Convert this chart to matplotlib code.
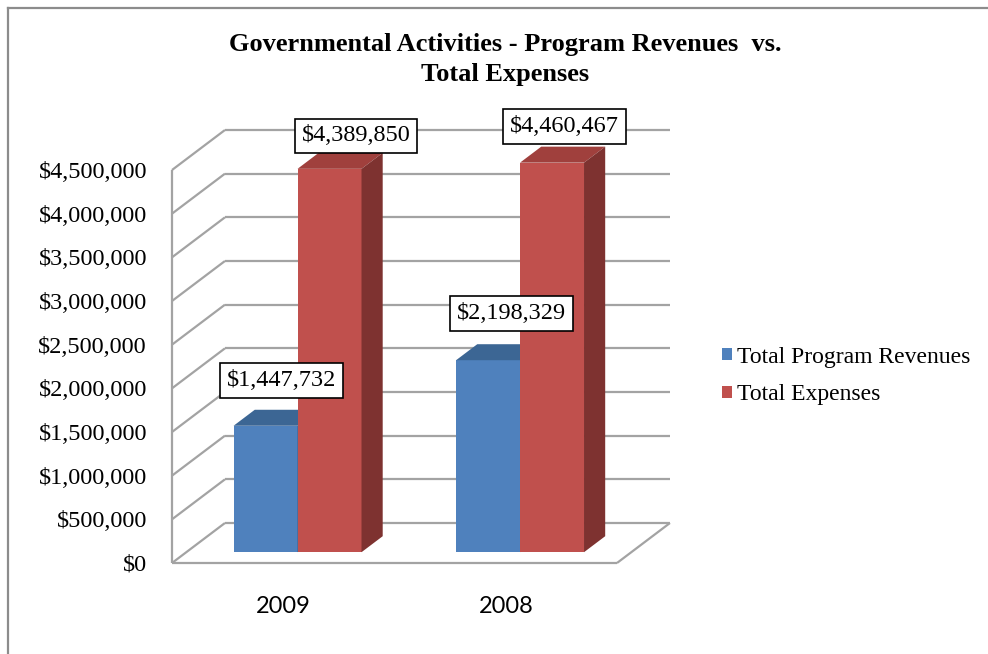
import matplotlib
matplotlib.use("Agg")
import matplotlib.pyplot as plt
from matplotlib.patches import Polygon, Patch
from matplotlib.lines import Line2D

# ---- data ----
years = ["2009", "2008"]
program_revenues = [1447732, 2198329]
total_expenses = [4389850, 4460467]
series_names = ["Total Program Revenues", "Total Expenses"]
y_ticks = [0, 500000, 1000000, 1500000, 2000000, 2500000,
           3000000, 3500000, 4000000, 4500000]

# ---- style ----
SERIF = ["Liberation Serif", "DejaVu Serif"]
SANS = ["Lato", "DejaVu Sans"]
GRID = "#a3a3a3"
FRONT = ["#4f81bd", "#c0504d"]
TOP = ["#3c6694", "#a0403d"]
SIDE = ["#385d8a", "#7e3230"]

W, H = 988, 654
fig = plt.figure(figsize=(W / 100, H / 100), dpi=100)
fig.patch.set_facecolor("white")

# front plane of the 3-D box
ax = fig.add_axes([172 / W, (H - 563) / H, 445 / W, 393 / H])
ymax = y_ticks[-1]
ax.set_xlim(-0.5, 1.5)
ax.set_ylim(0, ymax)
for s in ax.spines.values():
    s.set_visible(False)
ax.patch.set_alpha(0)

# oblique depth offset (in data units) from front plane to back wall
DX = 0.238
DY = ymax * 40 / 393


def proj(x, v, d):
    return x + d * DX, v + d * DY


def seg(p, q, **kw):
    ax.add_line(Line2D([p[0], q[0]], [p[1], q[1]], color=GRID, lw=1.6,
                       clip_on=False, solid_capstyle="butt", **kw))


x0, x1 = -0.5, 1.5
# back wall gridlines and side wall gridlines
for v in y_ticks:
    seg(proj(x0, v, 1), proj(x1, v, 1))
    seg(proj(x0, v, 0), proj(x0, v, 1))
# front left edge and floor outline
seg(proj(x0, 0, 0), proj(x0, ymax, 0))
seg(proj(x0, 0, 0), proj(x1, 0, 0))
seg(proj(x1, 0, 0), proj(x1, 0, 1))

# ---- 3-D bars ----
bw = 0.2875
d0, d1 = 0.27, 0.67


def bar3d(xl, xr, v, k):
    a = proj(xl, 0, d0); b = proj(xr, 0, d0)
    c = proj(xr, v, d0); e = proj(xl, v, d0)
    cb = proj(xr, v, d1); eb = proj(xl, v, d1); bb = proj(xr, 0, d1)
    ax.add_patch(Polygon([a, b, c, e], closed=True, fc=FRONT[k], ec="none",
                         clip_on=False, zorder=3))
    ax.add_patch(Polygon([e, c, cb, eb], closed=True, fc=TOP[k], ec="none",
                         clip_on=False, zorder=3))
    ax.add_patch(Polygon([b, bb, cb, c], closed=True, fc=SIDE[k], ec="none",
                         clip_on=False, zorder=3))


series = [program_revenues, total_expenses]
label_offsets = [[(5, 37), (13, 39)], [(16, 25), (2, 28)]]
for i in range(len(years)):
    for k, vals in enumerate(series):
        xl = i - bw + k * bw
        bar3d(xl, xl + bw, vals[i], k)

for k, vals in enumerate(series):
    for i in range(len(years)):
        xc = i - bw / 2 + k * bw
        anchor = proj(xc, vals[i], (d0 + d1) / 2)
        ax.annotate(f"${vals[i]:,}", xy=anchor, xytext=label_offsets[k][i],
                    textcoords="offset pixels", ha="center", va="center",
                    family=SERIF, fontsize=17.5, zorder=6,
                    annotation_clip=False,
                    bbox=dict(boxstyle="square,pad=0.28", fc="white",
                              ec="black", lw=1.2))

# ---- axes text ----
ax.set_yticks(y_ticks)
ax.set_yticklabels([f"${t:,}" for t in y_ticks], family=SERIF, fontsize=17.5)
ax.tick_params(axis="y", length=0, pad=18)
ax.set_xticks(range(len(years)))
ax.set_xticklabels(years, family=SANS, fontsize=17)
ax.tick_params(axis="x", length=0, pad=24)

fig.text(505 / W, 1 - 45 / H, "Governmental Activities - Program Revenues  vs.",
         ha="center", va="center", family=SERIF, fontsize=19, weight="bold")
fig.text(505 / W, 1 - 75 / H, "Total Expenses",
         ha="center", va="center", family=SERIF, fontsize=19, weight="bold")

handles = [Patch(fc=FRONT[k], ec="none") for k in range(2)]
fig.legend(handles, series_names, loc="center left",
           bbox_to_anchor=(722 / W, 1 - 376 / H), frameon=False,
           prop=dict(family=SERIF, size=17), handlelength=0.42,
           handleheight=0.42, handletextpad=0.2, labelspacing=0.7,
           borderpad=0, borderaxespad=0)

# outer chart border (top and left edges)
fig.add_artist(Line2D([8 / W, 1], [1 - 8 / H, 1 - 8 / H], color="#8c8c8c",
                      lw=1.6, transform=fig.transFigure))
fig.add_artist(Line2D([8 / W, 8 / W], [0, 1 - 8 / H], color="#8c8c8c",
                      lw=1.6, transform=fig.transFigure))

fig.savefig("out.png", dpi=100)
